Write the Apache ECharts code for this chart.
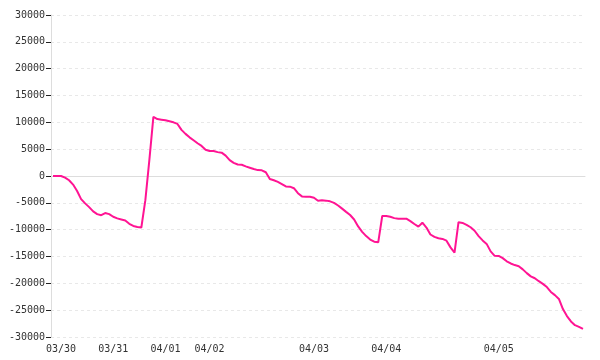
<!DOCTYPE html>
<html>
<head>
<meta charset="utf-8">
<script src="https://cdn.jsdelivr.net/npm/echarts@6/dist/echarts.min.js"></script>
<style>html,body{margin:0;padding:0;background:#fff}#c{width:600px;height:360px}</style>
</head>
<body>
<div id="c"></div>
<script>
var dayLabels = ['03/30', '03/31', '04/01', '04/02', '04/03', '04/04', '04/05'];
var dayStartIdx = [2, 15, 28, 39, 65, 83, 111];
var values = [
  0, 0, 0, -300, -800, -1600, -2800, -4300, -5100, -5800,
  -6600, -7100, -7300, -6900, -7100, -7600, -7900, -8100, -8300, -8900,
  -9300, -9500, -9600, -4500, 3000, 11000, 10600, 10500, 10400, 10200,
  10000, 9700, 8600, 7850, 7200, 6650, 6100, 5600, 4900, 4660,
  4660, 4450, 4350, 3800, 2950, 2450, 2150, 2100, 1800, 1550,
  1300, 1100, 1050, 700, -550, -800, -1100, -1500, -1950, -1990,
  -2280, -3200, -3800, -3850, -3850, -4050, -4620, -4530, -4590, -4720,
  -5000, -5500, -6080, -6680, -7270, -8100, -9400, -10400, -11200, -11850,
  -12250, -12350, -7450, -7450, -7600, -7850, -7950, -7950, -7950, -8400,
  -8950, -9440, -8700, -9600, -10900, -11350, -11600, -11720, -12050, -13300,
  -14280, -8600, -8750, -9100, -9550, -10200, -11200, -12000, -12650, -14050,
  -14870, -14900, -15300, -15900, -16300, -16600, -16800, -17400, -18100, -18700,
  -19050, -19600, -20100, -20700, -21600, -22200, -22900, -24800, -26100, -27100,
  -27800, -28100, -28500
];
var yMin = -30000, yMax = 30000, yStep = 5000;

var categories = [];
(function () {
  var day = '03/29';
  for (var i = 0; i < values.length; i++) {
    var k = dayStartIdx.indexOf(i);
    if (k >= 0) day = dayLabels[k];
    categories.push(day + ' ' + i);
  }
})();

var chart = echarts.init(document.getElementById('c'), null, {renderer: 'canvas'});
var font = {fontFamily: 'DejaVu Sans Mono', fontSize: 10, color: '#333'};
chart.setOption({
  animation: false,
  grid: {left: 51, right: 15, top: 15, bottom: 23, containLabel: false},
  xAxis: [{
    type: 'category',
    data: categories,
    boundaryGap: true,
    position: 'bottom',
    axisLine: {show: false},
    axisTick: {show: false},
    splitLine: {show: false},
    axisLabel: Object.assign({
      margin: 7,
      interval: function (idx) { return dayStartIdx.indexOf(idx) >= 0; },
      formatter: function (v) { return v.split(' ')[0]; }
    }, font)
  }, {
    type: 'category',
    data: categories,
    boundaryGap: true,
    position: 'bottom',
    axisLine: {show: true, onZero: true, onZeroAxisIndex: 0, lineStyle: {color: '#ddd', width: 1}},
    axisTick: {show: false},
    axisLabel: {show: false},
    splitLine: {show: false}
  }],
  yAxis: {
    type: 'value',
    min: yMin, max: yMax, interval: yStep,
    axisLine: {show: true, lineStyle: {color: '#ddd', width: 1}},
    axisTick: {show: true, length: 5, lineStyle: {color: '#222', width: 1}},
    axisLabel: Object.assign({margin: 6, formatter: function (v) { return String(v); }}, font),
    splitLine: {show: true, lineStyle: {color: '#e8e8e8', type: [3, 3], width: 1}}
  },
  series: [{
    type: 'line',
    data: values,
    xAxisIndex: 0,
    showSymbol: false,
    symbol: 'none',
    lineStyle: {color: '#ff1493', width: 2},
    itemStyle: {color: '#ff1493'}
  }]
});
</script>
</body>
</html>
